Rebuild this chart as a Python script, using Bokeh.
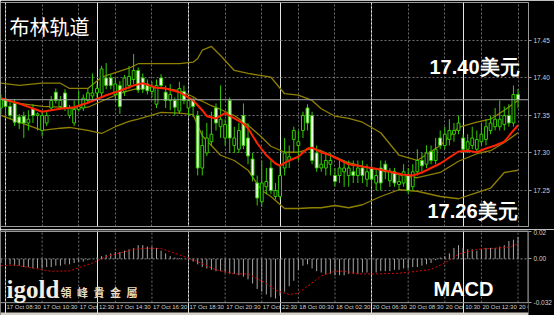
from bokeh.plotting import figure
from bokeh.layouts import column
from bokeh.models import (Range1d, FixedTicker, Grid, Span, Label, BoxAnnotation,
                          ColumnDataSource, PrintfTickFormatter)
from bokeh.embed import file_html
from bokeh.resources import INLINE

# ---------------- data (15-minute bars, index 0 = 17 Oct 08:30) ----------------
bars = list(range(-1, 113))

opens = [17.360, 17.372, 17.362, 17.366, 17.348, 17.349, 17.340, 17.359, 17.350, 17.330,
         17.340, 17.360, 17.381, 17.362, 17.380, 17.350, 17.340, 17.358, 17.360, 17.370,
         17.376, 17.380, 17.380, 17.400, 17.400, 17.378, 17.390, 17.382, 17.390, 17.398,
         17.410, 17.400, 17.392, 17.382, 17.365, 17.400, 17.381, 17.370, 17.370, 17.356,
         17.382, 17.360, 17.370, 17.350, 17.280, 17.300, 17.315, 17.360, 17.335, 17.320,
         17.370, 17.310, 17.305, 17.350, 17.320, 17.292, 17.260, 17.235, 17.255, 17.280,
         17.242, 17.242, 17.280, 17.290, 17.318, 17.310, 17.330, 17.360, 17.350, 17.300,
         17.280, 17.280, 17.285, 17.270, 17.270, 17.275, 17.270, 17.275, 17.270, 17.280,
         17.265, 17.280, 17.260, 17.280, 17.285, 17.263, 17.275, 17.258, 17.260, 17.270,
         17.255, 17.275, 17.290, 17.285, 17.302, 17.290, 17.320, 17.310, 17.318, 17.325,
         17.330, 17.320, 17.305, 17.310, 17.305, 17.315, 17.318, 17.330, 17.335, 17.335,
         17.338, 17.350, 17.340, 17.378]
highs = [17.378, 17.382, 17.368, 17.372, 17.352, 17.355, 17.357, 17.365, 17.354, 17.356,
         17.355, 17.376, 17.386, 17.376, 17.385, 17.364, 17.370, 17.383, 17.378, 17.386,
         17.406, 17.392, 17.416, 17.420, 17.405, 17.400, 17.396, 17.404, 17.416, 17.432,
         17.414, 17.406, 17.398, 17.395, 17.398, 17.405, 17.390, 17.392, 17.374, 17.395,
         17.390, 17.376, 17.374, 17.356, 17.330, 17.340, 17.355, 17.366, 17.390, 17.345,
         17.374, 17.335, 17.340, 17.366, 17.340, 17.300, 17.270, 17.290, 17.280, 17.290,
         17.260, 17.285, 17.320, 17.310, 17.335, 17.330, 17.355, 17.365, 17.355, 17.310,
         17.300, 17.300, 17.300, 17.280, 17.290, 17.290, 17.290, 17.290, 17.290, 17.290,
         17.285, 17.290, 17.280, 17.290, 17.290, 17.280, 17.280, 17.270, 17.285, 17.280,
         17.285, 17.305, 17.300, 17.310, 17.310, 17.320, 17.330, 17.335, 17.345, 17.340,
         17.350, 17.325, 17.325, 17.335, 17.330, 17.340, 17.345, 17.350, 17.360, 17.370,
         17.362, 17.365, 17.390, 17.385]
lows = [17.352, 17.350, 17.345, 17.336, 17.332, 17.320, 17.330, 17.340, 17.330, 17.322,
        17.336, 17.356, 17.366, 17.358, 17.356, 17.346, 17.336, 17.355, 17.356, 17.366,
        17.370, 17.374, 17.376, 17.385, 17.385, 17.370, 17.352, 17.376, 17.385, 17.392,
        17.380, 17.380, 17.378, 17.374, 17.360, 17.385, 17.360, 17.357, 17.350, 17.352,
        17.365, 17.350, 17.348, 17.270, 17.270, 17.296, 17.310, 17.330, 17.320, 17.310,
        17.300, 17.300, 17.300, 17.305, 17.285, 17.262, 17.230, 17.228, 17.245, 17.245,
        17.238, 17.238, 17.270, 17.280, 17.300, 17.290, 17.320, 17.330, 17.285, 17.275,
        17.275, 17.270, 17.270, 17.255, 17.260, 17.255, 17.255, 17.260, 17.260, 17.260,
        17.255, 17.255, 17.250, 17.250, 17.265, 17.255, 17.255, 17.250, 17.255, 17.245,
        17.250, 17.270, 17.275, 17.280, 17.285, 17.285, 17.305, 17.305, 17.310, 17.315,
        17.325, 17.300, 17.300, 17.305, 17.300, 17.310, 17.310, 17.325, 17.330, 17.330,
        17.330, 17.335, 17.335, 17.360]
closes = [17.372, 17.362, 17.350, 17.341, 17.340, 17.340, 17.345, 17.350, 17.352, 17.350,
          17.350, 17.370, 17.370, 17.370, 17.360, 17.360, 17.358, 17.362, 17.373, 17.380,
          17.380, 17.386, 17.412, 17.390, 17.390, 17.392, 17.362, 17.400, 17.402, 17.410,
          17.384, 17.385, 17.383, 17.388, 17.390, 17.390, 17.370, 17.378, 17.361, 17.386,
          17.370, 17.370, 17.362, 17.280, 17.310, 17.320, 17.325, 17.340, 17.345, 17.338,
          17.320, 17.320, 17.330, 17.310, 17.296, 17.270, 17.240, 17.260, 17.262, 17.250,
          17.250, 17.270, 17.300, 17.295, 17.330, 17.315, 17.350, 17.340, 17.290, 17.280,
          17.285, 17.290, 17.290, 17.262, 17.280, 17.280, 17.280, 17.270, 17.280, 17.270,
          17.275, 17.265, 17.270, 17.260, 17.275, 17.276, 17.260, 17.262, 17.275, 17.250,
          17.275, 17.290, 17.283, 17.300, 17.290, 17.305, 17.310, 17.325, 17.330, 17.330,
          17.340, 17.305, 17.315, 17.320, 17.318, 17.325, 17.335, 17.340, 17.345, 17.345,
          17.350, 17.340, 17.378, 17.371]

# red moving average, read at sample bars
ma_bars = [-1, 3, 8, 12, 15, 18, 22, 25, 28, 30, 33, 35, 38, 41, 43, 44, 46, 48, 50, 52,
           53, 55, 57, 59, 60, 62, 64, 66, 67, 69, 71, 73, 75, 78, 81, 84, 87, 89, 91, 95,
           99, 101, 103, 105, 107, 109, 111, 112]
ma_values = [17.373, 17.366, 17.355, 17.359, 17.361, 17.367, 17.377, 17.383, 17.390, 17.393,
             17.387, 17.386, 17.381, 17.370, 17.357, 17.349, 17.346, 17.353, 17.346, 17.339,
             17.333, 17.313, 17.297, 17.286, 17.283, 17.290, 17.295, 17.306, 17.307, 17.301,
             17.297, 17.291, 17.285, 17.282, 17.279, 17.275, 17.271, 17.270, 17.274, 17.286,
             17.302, 17.303, 17.301, 17.306, 17.310, 17.315, 17.330, 17.337]

# Bollinger bands, read at sample bars
bb_bars = [-1, 3, 8, 12, 14, 18, 21, 24, 27, 29, 34, 38, 41, 42, 43, 45, 47, 50, 53, 56,
           58, 61, 64, 67, 69, 72, 75, 78, 82, 86, 90, 95, 99, 103, 106, 109, 112]
bb_upper = [17.393, 17.390, 17.393, 17.393, 17.386, 17.386, 17.401, 17.407, 17.413, 17.419,
            17.419, 17.419, 17.421, 17.426, 17.437, 17.442, 17.430, 17.410, 17.406, 17.403,
            17.401, 17.379, 17.377, 17.370, 17.359, 17.349, 17.346, 17.341, 17.327, 17.297,
            17.290, 17.310, 17.334, 17.341, 17.345, 17.357, 17.370]
bb_middle = [17.371, 17.366, 17.362, 17.361, 17.359, 17.361, 17.369, 17.377, 17.383, 17.386,
             17.387, 17.383, 17.375, 17.371, 17.369, 17.363, 17.358, 17.350, 17.337, 17.321,
             17.309, 17.301, 17.301, 17.306, 17.303, 17.295, 17.287, 17.282, 17.277, 17.271,
             17.267, 17.274, 17.289, 17.299, 17.303, 17.314, 17.327]
bb_lower = [17.350, 17.341, 17.330, 17.333, 17.334, 17.330, 17.326, 17.335, 17.342, 17.345,
            17.354, 17.353, 17.351, 17.337, 17.323, 17.310, 17.297, 17.290, 17.277, 17.250,
            17.242, 17.226, 17.226, 17.227, 17.227, 17.230, 17.227, 17.231, 17.242, 17.251,
            17.249, 17.242, 17.239, 17.247, 17.253, 17.274, 17.277]

# MACD histogram (per bar) and signal line (sample bars)
macd_hist = [-0.003, -0.004, -0.004, -0.005, -0.005, -0.006,
             -0.006, -0.007, -0.007, -0.007, -0.006, -0.006, -0.005, -0.005,
             -0.004, -0.004, -0.003, -0.002, -0.002, -0.001,
             0.000, 0.001, 0.002, 0.003,
             0.004, 0.005, 0.005, 0.006, 0.007, 0.008, 0.010, 0.010, 0.009, 0.009, 0.008,
             0.006, 0.004, 0.002, 0.001, 0.0005, 0.000, -0.001,
             -0.002, -0.004,
             -0.006, -0.007, -0.008, -0.009, -0.009, -0.010, -0.011, -0.011, -0.012, -0.013,
             -0.015, -0.018, -0.022, -0.024, -0.026, -0.028, -0.029,
             -0.027, -0.024, -0.020, -0.016, -0.008, -0.005, -0.004,
             -0.007, -0.009, -0.010, -0.011, -0.011, -0.012, -0.012, -0.012, -0.011, -0.011,
             -0.011, -0.010, -0.010, -0.010, -0.010, -0.009, -0.009, -0.009, -0.008, -0.008,
             -0.007, -0.007, -0.006, -0.006,
             -0.005, -0.004, -0.003, -0.001, 0.001,
             0.002, 0.004, 0.008, 0.010,
             0.008, 0.007, 0.007, 0.006, 0.007, 0.008, 0.008, 0.008, 0.009,
             0.010, 0.013, 0.014, 0.016]
signal_bars = [-1, 2, 10, 14, 19, 22, 28, 31, 34, 38, 42, 46, 50, 53, 57, 59, 62, 64, 66, 69,
               72, 74, 77, 81, 86, 90, 93, 96, 99, 103, 107, 110, 112]
signal_values = [-0.005, -0.0045, -0.009, -0.0088, -0.003, 0.0016, 0.007, 0.0078, 0.0075, 0.003,
                 -0.002, -0.008, -0.011, -0.011, -0.018, -0.023, -0.026, -0.025, -0.020, -0.0125,
                 -0.009, -0.009, -0.011, -0.011, -0.0105, -0.009, -0.0077, -0.003, 0.0035, 0.007,
                 0.0078, 0.0085, 0.011]

time_ticks = [0, 8, 16, 24, 32, 40, 48, 56, 64, 72, 80, 88, 96, 104, 112]
time_labels = ["17 Oct 08:30", "17 Oct 10:30", "17 Oct 12:30", "17 Oct 14:30", "17 Oct 16:30",
               "17 Oct 18:30", "17 Oct 20:30", "17 Oct 22:30", "18 Oct 00:30", "18 Oct 02:30",
               "20 Oct 06:30", "20 Oct 08:30", "20 Oct 10:30", "20 Oct 12:30", "20 Oct 14:30"]
price_ticks = [17.25, 17.30, 17.35, 17.40, 17.45]
macd_ticks = [0.02, 0.0, -0.032]
last_price = 17.371
last_price_text = "17.37"

# ---------------- styles ----------------
GREEN = "#33cc00"
BODY_BEAR = "#f4fff0"
OLIVE = "#8f8000"
RED = "#ff2200"
GRID = "#6f6f6f"
FRAME = "#9a9a9a"
AXIS_TXT = "#d0d0d0"

x_range = Range1d(-1.09, 114.29)


def base_fig(h, y_range, top, bottom):
    f = figure(width=554, height=h, x_range=x_range, y_range=y_range,
               x_axis_location=None, y_axis_location="right", toolbar_location=None,
               output_backend="svg", min_border=0, min_border_left=0, min_border_right=25,
               min_border_top=top, min_border_bottom=bottom,
               background_fill_color="black", border_fill_color="black",
               outline_line_color=FRAME, outline_line_width=1)
    ax = f.yaxis[0]
    ax.major_label_text_font_size = "6.5px"
    ax.major_label_text_color = AXIS_TXT
    ax.major_label_text_font = "Liberation Sans"
    ax.major_tick_out = 3
    ax.major_tick_in = 0
    ax.major_tick_line_color = FRAME
    ax.minor_tick_line_color = None
    ax.axis_line_color = FRAME
    ax.major_label_standoff = 2
    return f


# ---------------- main price panel (frame y 2..226) ----------------
p = base_fig(229, Range1d(17.202, 17.5006), 2, 3)
p.yaxis.ticker = FixedTicker(ticks=price_ticks)
p.yaxis.formatter = PrintfTickFormatter(format="%.2f")
p.ygrid.grid_line_color = GRID
p.ygrid.grid_line_dash = "2 2"
p.add_layout(Grid(dimension=0, ticker=FixedTicker(ticks=time_ticks),
                  grid_line_color=GRID, grid_line_dash="2 2"))

p.add_layout(Span(location=last_price, dimension="width", line_color="#a8a8a8", line_width=1))

for ys in (bb_upper, bb_middle, bb_lower):
    p.line(bb_bars, ys, line_color=OLIVE, line_width=1.3)

p.segment(x0=bars, y0=lows, x1=bars, y1=highs, line_color=GREEN, line_width=1)
bull = [i for i in range(len(bars)) if closes[i] >= opens[i]]
bear = [i for i in range(len(bars)) if closes[i] < opens[i]]
src_bull = ColumnDataSource(dict(x=[bars[i] for i in bull], top=[closes[i] for i in bull],
                                 bottom=[opens[i] for i in bull]))
src_bear = ColumnDataSource(dict(x=[bars[i] for i in bear], top=[opens[i] for i in bear],
                                 bottom=[closes[i] for i in bear]))
p.vbar(x="x", top="top", bottom="bottom", width=0.62, source=src_bull,
       fill_color="black", line_color=GREEN, line_width=1)
p.vbar(x="x", top="top", bottom="bottom", width=0.62, source=src_bear,
       fill_color=BODY_BEAR, line_color=GREEN, line_width=1)

p.line(ma_bars, ma_values, line_color=RED, line_width=2)

# price tag just right of the frame
p.add_layout(Label(x=x_range.end, y=last_price, x_offset=2, text=last_price_text,
                   text_font="Liberation Sans", text_font_size="6.5px", text_color="black",
                   text_baseline="middle", background_fill_color="white"))

top_y = p.y_range.end
bot_y = p.y_range.start
p.add_layout(Label(x=x_range.start, y=top_y, x_offset=9, y_offset=-24, text="布林轨道",
                   text_font="Noto Sans CJK SC", text_font_size="20px", text_color="white",
                   text_baseline="middle"))
p.add_layout(Label(x=x_range.start, y=top_y, x_offset=429, y_offset=-64.5, text="17.40美元",
                   text_font="Liberation Sans", text_font_style="bold", text_font_size="20px",
                   text_color="white", text_baseline="middle"))
p.add_layout(Label(x=x_range.start, y=bot_y, x_offset=427, y_offset=16, text="17.26美元",
                   text_font="Liberation Sans", text_font_style="bold", text_font_size="20px",
                   text_color="white", text_baseline="middle"))

# ---------------- MACD panel (frame y 229..315; panel drawn 230..302) ----------------
m = base_fig(86, Range1d(-0.04138, 0.02073), 1, 0)
m.outline_line_color = None
m.yaxis.axis_line_color = None
m.yaxis.ticker = FixedTicker(ticks=macd_ticks)
m.yaxis.major_label_overrides = {0.02: "0.02", 0.0: "0.00", -0.032: "-0.032"}
m.ygrid.visible = False

macd_top = macd_ticks[0]
macd_bot = macd_ticks[-1]
px = (m.y_range.end - m.y_range.start) / 86.0

# light window strip at the very bottom
m.add_layout(BoxAnnotation(bottom=m.y_range.start, top=m.y_range.start + 3 * px,
                           fill_color="#d4d0c8", fill_alpha=1.0, line_color=None))

# panel frame + vertical grid limited to the MACD panel
m.segment(x0=time_ticks, y0=[macd_bot] * len(time_ticks), x1=time_ticks,
          y1=[macd_top] * len(time_ticks), line_color=GRID, line_dash="2 2", line_width=1)
m.add_layout(Span(location=macd_top, dimension="width", line_color=FRAME, line_width=1))
m.add_layout(Span(location=macd_bot, dimension="width", line_color=FRAME, line_width=1))
m.segment(x0=[x_range.end], y0=[macd_bot], x1=[x_range.end], y1=[macd_top],
          line_color=FRAME, line_width=2)
m.add_layout(Span(location=0, dimension="width", line_color="#8a8a8a", line_dash="2 2"))

m.segment(x0=bars, y0=[0] * len(bars), x1=bars, y1=macd_hist, line_color="#a8a8a8", line_width=1)
m.line(signal_bars, signal_values, line_color="#e00000", line_dash="2 2", line_width=1)

for t, lab in zip(time_ticks, time_labels):
    m.add_layout(Label(x=t, y=macd_bot, x_offset=1, y_offset=-4.5, text=lab,
                       text_font="Liberation Sans", text_font_size="6px", text_color=AXIS_TXT,
                       text_baseline="middle", text_align="left"))

m.add_layout(Label(x=x_range.start, y=macd_bot, x_offset=433, y_offset=13.5, text="MACD",
                   text_font="Liberation Sans", text_font_style="bold", text_font_size="20px",
                   text_color="white", text_baseline="middle"))
m.add_layout(Label(x=x_range.start, y=macd_bot, x_offset=6, y_offset=13, text="igold",
                   text_font="Liberation Serif", text_font_style="bold", text_font_size="25px",
                   text_color="#f3eee2", text_baseline="middle"))
m.add_layout(Label(x=x_range.start, y=macd_bot, x_offset=60, y_offset=11,
                   text="領\u2002峰\u2002貴\u2002金\u2002屬",
                   text_font="Noto Sans CJK TC", text_font_style="bold", text_font_size="11px",
                   text_color="#e8dcc0", text_baseline="middle"))

layout = column(p, m, spacing=0)
open("out.html", "w").write(file_html(layout, INLINE))
